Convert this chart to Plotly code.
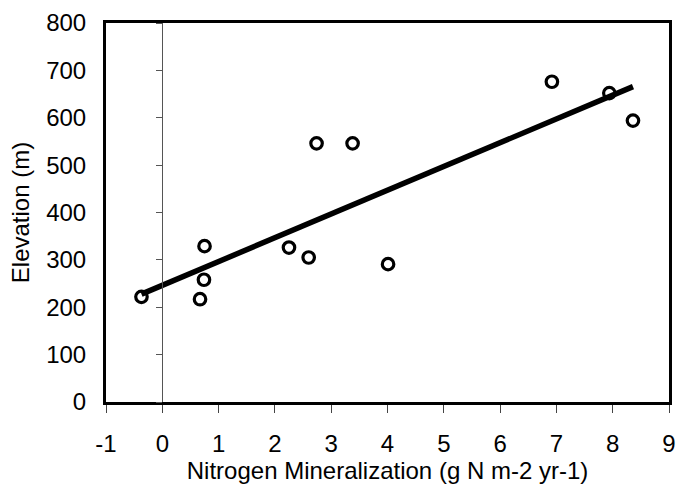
import numpy as np
import plotly.graph_objects as go

# Data
nitrogen_min = [-0.37, 0.75, 0.74, 0.67, 2.74, 3.38, 2.25, 2.60, 4.01, 6.92, 7.94, 8.36]
elevation = [222, 329, 258, 217, 546, 546, 326, 305, 291, 676, 652, 594]

x_ticks = [-1, 0, 1, 2, 3, 4, 5, 6, 7, 8, 9]
y_ticks = [0, 100, 200, 300, 400, 500, 600, 700, 800]

x_title = "Nitrogen Mineralization (g N m-2 yr-1)"
y_title = "Elevation (m)"

# Linear regression fit from the data
slope, intercept = np.polyfit(nitrogen_min, elevation, 1)
fit_x = [min(nitrogen_min), max(nitrogen_min)]
fit_y = [slope * v + intercept for v in fit_x]

FONT = "Liberation Sans, Arial, sans-serif"

fig = go.Figure()

fig.add_trace(go.Scatter(
    x=fit_x, y=fit_y, mode="lines",
    line=dict(color="black", width=5.5),
    showlegend=False, hoverinfo="skip",
))

fig.add_trace(go.Scatter(
    x=nitrogen_min, y=elevation, mode="markers",
    marker=dict(symbol="circle-open", size=11.5, color="black",
                line=dict(width=3.2, color="black")),
    showlegend=False,
))

# invisible trace to carry the zero-line axis
fig.add_trace(go.Scatter(
    x=[0], y=[0], yaxis="y2", mode="markers",
    marker=dict(opacity=0), showlegend=False, hoverinfo="skip",
))

fig.update_layout(
    width=685, height=492,
    margin=dict(l=106, r=9, t=22, b=90),
    paper_bgcolor="white", plot_bgcolor="white",
    font=dict(family=FONT, size=24, color="black"),
    xaxis=dict(
        range=[-1, 9], tickvals=x_ticks, ticktext=[str(v) for v in x_ticks],
        showgrid=False, zeroline=False,
        showline=True, linecolor="black", linewidth=3, mirror=True,
        ticks="outside", ticklen=8, tickwidth=1, tickcolor="#444",
        ticklabelstandoff=10,
        title=dict(text=x_title, font=dict(size=24), standoff=6),
    ),
    yaxis=dict(
        range=[0, 800], tickvals=y_ticks, ticktext=[str(v) for v in y_ticks],
        showgrid=False, zeroline=False,
        showline=True, linecolor="black", linewidth=3, mirror=True,
        ticks="", ticklabelstandoff=12,
        title=dict(text=y_title, font=dict(size=24), standoff=10),
    ),
    yaxis2=dict(
        range=[0, 800], tickvals=y_ticks, overlaying="y", anchor="free",
        position=0.1, side="left",
        showgrid=False, zeroline=False, showticklabels=False,
        showline=True, linecolor="#555", linewidth=1,
        ticks="outside", ticklen=6, tickwidth=1, tickcolor="#555",
    ),
)

fig.write_html("out.html")
